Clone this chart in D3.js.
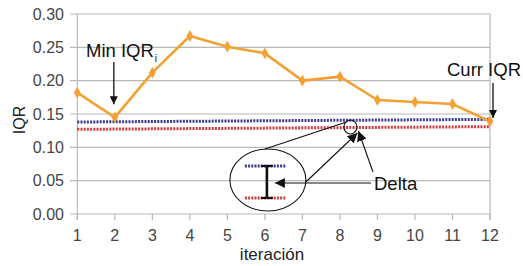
<!DOCTYPE html>
<html><head><meta charset="utf-8">
<script src="https://cdn.jsdelivr.net/npm/d3@7"></script>
<style>
html,body{margin:0;padding:0;background:#fff;}
svg{display:block;font-family:"Liberation Sans",Arial,sans-serif;}
</style></head>
<body>
<svg id="chart" width="523" height="266"></svg>
<script>
// ---- data ----
const iterations = [1,2,3,4,5,6,7,8,9,10,11,12];
const iqrValues  = [0.182,0.145,0.212,0.267,0.251,0.241,0.200,0.206,0.171,0.168,0.165,0.139];
const blueBandX = [1, 12];
const blueBandY = [0.138, 0.142];
const redBandX  = [1, 12];
const redBandY  = [0.127, 0.131];
const yTicks = [0,0.05,0.10,0.15,0.20,0.25,0.30];
const xTickLabels = ["1","2","3","4","5","6","7","8","9","10","11","12"];
const yTitle = "IQR";
const xTitle = "iteración";

const svg = d3.select("#chart");
const x = d3.scaleLinear().domain([1,12]).range([77.3,490]);
const y = d3.scaleLinear().domain([0,0.30]).range([214,14]);
const grid = "#b8b8b8", txt = "#444";

// gridlines
svg.append("g").selectAll("line").data(yTicks).join("line")
  .attr("x1",70).attr("x2",x(12)).attr("y1",d=>y(d)).attr("y2",d=>y(d))
  .attr("stroke",grid).attr("stroke-width",1.2);
// frame verticals
svg.append("line").attr("x1",x(1)).attr("x2",x(1)).attr("y1",y(0.30)).attr("y2",y(0)+6)
  .attr("stroke",grid).attr("stroke-width",1.2);
svg.append("line").attr("x1",x(12)).attr("x2",x(12)).attr("y1",y(0.30)).attr("y2",y(0)+6)
  .attr("stroke",grid).attr("stroke-width",1.2);
// x ticks
svg.append("g").selectAll("line").data(iterations).join("line")
  .attr("x1",d=>x(d)).attr("x2",d=>x(d)).attr("y1",y(0)).attr("y2",y(0)+6)
  .attr("stroke",grid).attr("stroke-width",1.2);
// y labels
svg.append("g").selectAll("text").data(yTicks).join("text")
  .attr("x",64).attr("y",d=>y(d)).attr("dy","0.36em").attr("text-anchor","end")
  .attr("font-size",16).attr("fill",txt).text(d=>d3.format(".2f")(d));
// x labels
svg.append("g").selectAll("text").data(iterations).join("text")
  .attr("x",d=>x(d)).attr("y",241).attr("text-anchor","middle")
  .attr("font-size",16).attr("fill",txt).text((d,i)=>xTickLabels[i]);
// titles
svg.append("text").attr("transform","translate(25,120) rotate(-90)").attr("text-anchor","middle")
  .attr("font-size",16).attr("fill","#222").text(yTitle);
svg.append("text").attr("x",272).attr("y",260).attr("text-anchor","middle")
  .attr("font-size",17).attr("fill","#222").text(xTitle);

// dotted bands
const line = d3.line().x(d=>x(d[0])).y(d=>y(d[1]));
svg.append("path").datum(d3.zip(blueBandX,blueBandY)).attr("d",line)
  .attr("stroke","#3b3b8f").attr("stroke-width",3).attr("stroke-dasharray","2,1.2").attr("fill","none");
svg.append("path").datum(d3.zip(redBandX,redBandY)).attr("d",line)
  .attr("stroke","#d23c3c").attr("stroke-width",3).attr("stroke-dasharray","2,1.2").attr("fill","none");

// series
const orange = "#f3a133";
svg.append("path").datum(d3.zip(iterations,iqrValues)).attr("d",line)
  .attr("stroke",orange).attr("stroke-width",2.6).attr("fill","none").attr("stroke-linejoin","round");
svg.append("g").selectAll("path").data(d3.zip(iterations,iqrValues)).join("path")
  .attr("d",d3.symbol().type(d3.symbolDiamond).size(40))
  .attr("transform",d=>`translate(${x(d[0])},${y(d[1])})`).attr("fill",orange);

// arrow markers
const defs = svg.append("defs");
defs.append("marker").attr("id","arr").attr("viewBox","0 0 10 10").attr("refX",10).attr("refY",5)
  .attr("markerWidth",10).attr("markerHeight",10).attr("markerUnits","userSpaceOnUse").attr("orient","auto")
  .append("path").attr("d","M0,0 L10,5 L0,10 Z").attr("fill","#111");
defs.append("marker").attr("id","arrBig").attr("viewBox","0 0 10 10").attr("refX",10).attr("refY",5)
  .attr("markerWidth",12).attr("markerHeight",8).attr("markerUnits","userSpaceOnUse").attr("orient","auto")
  .append("path").attr("d","M0,0 L10,5 L0,10 Z").attr("fill","#111");

// Min IQR annotation
const minT = svg.append("text").attr("x",86).attr("y",57).attr("font-size",18.5).attr("fill","#111");
minT.append("tspan").text("Min IQR");
minT.append("tspan").attr("font-size",10).attr("dy",5).attr("dx",1).text("i");
svg.append("line").attr("x1",x(2)-1).attr("x2",x(2)-1).attr("y1",62).attr("y2",y(iqrValues[1])-13)
  .attr("stroke","#111").attr("stroke-width",1.3).attr("marker-end","url(#arrBig)");

// Curr IQR annotation
svg.append("text").attr("x",447).attr("y",76).attr("font-size",18.5).attr("fill","#111").text("Curr IQR");
svg.append("line").attr("x1",x(12)+3).attr("x2",x(12)+3).attr("y1",83).attr("y2",118)
  .attr("stroke","#111").attr("stroke-width",1.3).attr("marker-end","url(#arrBig)");

// zoom ellipses
const sx = x(8.28), sy = y(0.1305);
svg.append("ellipse").attr("cx",sx).attr("cy",sy).attr("rx",6.5).attr("ry",7)
  .attr("fill","none").attr("stroke","#111").attr("stroke-width",1.1);
const bx = x(6.08), by = 180;
svg.append("ellipse").attr("cx",bx).attr("cy",by).attr("rx",38).attr("ry",31)
  .attr("fill","none").attr("stroke","#111").attr("stroke-width",1.1);
// inset dotted lines
svg.append("line").attr("x1",bx-23).attr("x2",bx+18).attr("y1",166).attr("y2",166)
  .attr("stroke","#3b3b8f").attr("stroke-width",3).attr("stroke-dasharray","2,1.2");
svg.append("line").attr("x1",bx-23).attr("x2",bx+18).attr("y1",198).attr("y2",198)
  .attr("stroke","#d23c3c").attr("stroke-width",3).attr("stroke-dasharray","2,1.2");
// I-beam
svg.append("line").attr("x1",bx-1).attr("x2",bx-1).attr("y1",166).attr("y2",198).attr("stroke","#111").attr("stroke-width",2.6);
svg.append("line").attr("x1",bx-7).attr("x2",bx+5).attr("y1",166).attr("y2",166).attr("stroke","#111").attr("stroke-width",2);
svg.append("line").attr("x1",bx-7).attr("x2",bx+5).attr("y1",198).attr("y2",198).attr("stroke","#111").attr("stroke-width",2);
// connector lines
svg.append("line").attr("x1",bx-3).attr("y1",by-31).attr("x2",sx-4).attr("y2",sy-5)
  .attr("stroke","#111").attr("stroke-width",1.1);
svg.append("line").attr("x1",bx+38).attr("y1",by+2).attr("x2",sx+7).attr("y2",sy+6)
  .attr("stroke","#111").attr("stroke-width",1.1).attr("marker-end","url(#arr)");
// Delta
svg.append("text").attr("x",374).attr("y",190).attr("font-size",18.5).attr("fill","#111").text("Delta");
svg.append("line").attr("x1",371).attr("y1",183).attr("x2",bx+7).attr("y2",183)
  .attr("stroke","#111").attr("stroke-width",1.1).attr("marker-end","url(#arr)");
svg.append("line").attr("x1",373).attr("y1",172).attr("x2",sx+8).attr("y2",sy+4)
  .attr("stroke","#111").attr("stroke-width",1.1).attr("marker-end","url(#arr)");
</script>
</body></html>
